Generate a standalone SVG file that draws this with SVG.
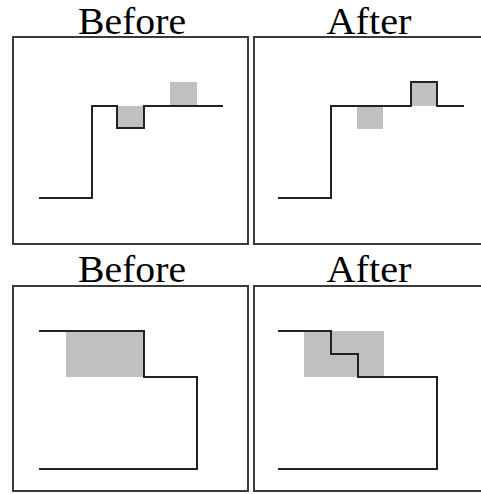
<svg xmlns="http://www.w3.org/2000/svg" width="481" height="494" viewBox="0 0 481 494">
<style>
.frame{fill:#fff;stroke:#3a3a3a;stroke-width:2}
.wire{fill:none;stroke:#222;stroke-width:2;stroke-linejoin:miter;stroke-linecap:butt}
.shade{fill:#c0c0c0;stroke:none}
.lbl{font-family:"Liberation Serif","Times New Roman",serif;font-size:38px;fill:#000;text-anchor:middle}
</style>
<rect width="481" height="494" fill="#fff"/>
<g id="panel-top-before">
<text class="lbl" x="132" y="34" textLength="108" lengthAdjust="spacingAndGlyphs">Before</text>
<rect class="frame" x="13" y="37" width="235" height="207"/>
<rect class="shade" x="117" y="106" width="27" height="22"/>
<rect class="shade" x="170" y="82" width="27" height="24"/>
</g>
<g id="panel-top-after">
<text class="lbl" x="369" y="34" textLength="85" lengthAdjust="spacingAndGlyphs">After</text>
<rect class="frame" x="254" y="37" width="230" height="207"/>
<rect class="shade" x="357" y="106" width="26" height="23"/>
<rect class="shade" x="411" y="82" width="26" height="24"/>
</g>
<g id="panel-bottom-before">
<text class="lbl" x="132" y="282" textLength="108" lengthAdjust="spacingAndGlyphs">Before</text>
<rect class="frame" x="13" y="286" width="235" height="205"/>
<rect class="shade" x="66" y="331" width="78" height="46"/>
</g>
<g id="panel-bottom-after">
<text class="lbl" x="369" y="282" textLength="85" lengthAdjust="spacingAndGlyphs">After</text>
<rect class="frame" x="254" y="286" width="230" height="205"/>
<rect class="shade" x="304" y="331" width="80" height="46"/>
</g>
<g id="connectors">
<path class="wire" d="M39,198 H92 V106 H117 V128 H144 V106 H223"/>
<path class="wire" d="M278,198 H331 V106 H411 V82 H437 V106 H464"/>
<path class="wire" d="M39,331 H144 V377 H197 V469 H39"/>
<path class="wire" d="M278,331 H331 V354 H358 V377 H437 V469 H278"/>
</g>
</svg>
